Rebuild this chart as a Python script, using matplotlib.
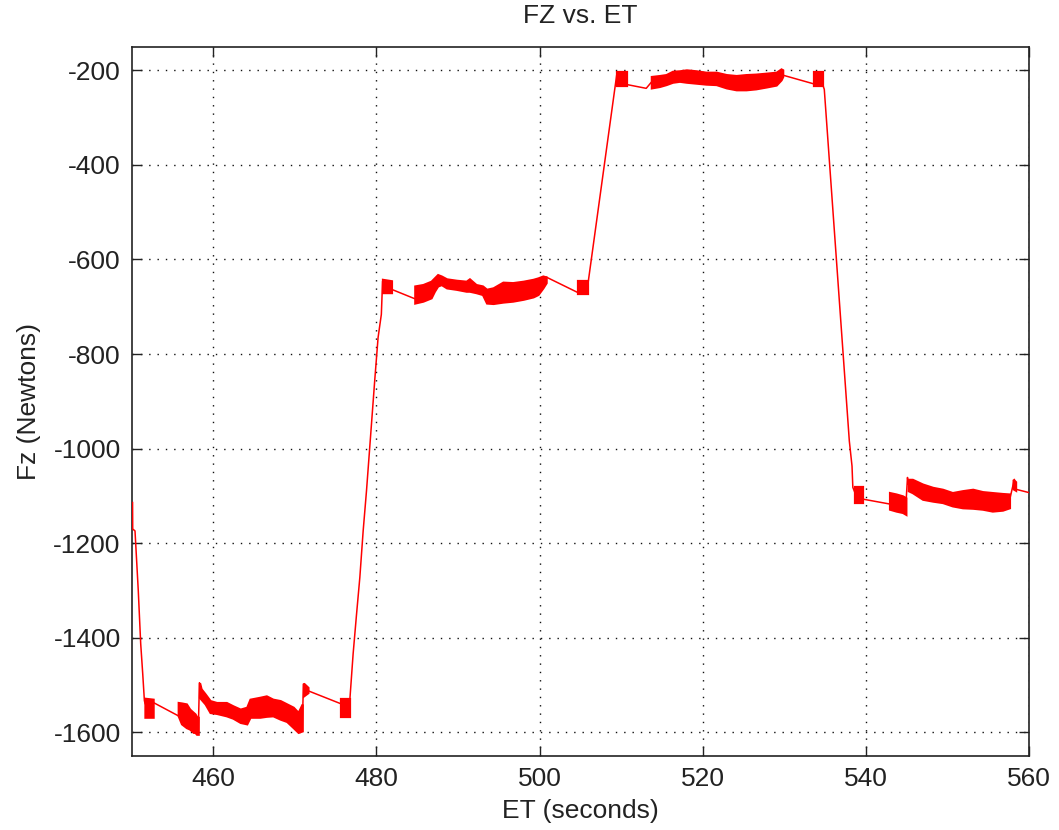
import numpy as np
import matplotlib
matplotlib.use("Agg")
import matplotlib.pyplot as plt

# ---- data ----
# sparse trace (connecting lines between the noisy blocks)
trace_t = [450.10, 450.12, 450.40, 450.80, 451.10, 451.35, 451.55, 451.65, 452.60, 452.65,
           455.70, 458.15, 458.30, 458.50, 470.90, 471.05, 471.60, 475.70, 476.70, 476.73,
           477.14, 477.56, 477.96, 478.37, 478.78, 479.80, 480.20, 480.60, 480.75, 481.84,
           484.70, 500.80, 504.70, 505.90, 509.45, 510.70, 513.07, 513.70, 529.80, 533.70,
           534.70, 534.90, 537.97, 538.30, 538.40, 538.70, 539.70, 542.87, 544.90, 545.10,
           545.20, 557.60, 558.20, 558.40, 560.00]
trace_y = [-1114, -1170, -1174, -1300, -1413, -1477, -1533, -1540, -1545, -1537,
           -1565, -1600, -1495, -1515, -1590, -1498, -1512, -1540, -1545, -1533,
           -1434, -1350, -1273, -1174, -1089, -853, -765, -716, -646, -663,
           -683, -637, -670, -655, -210, -230, -238, -225, -210, -229,
           -230, -240, -984, -1037, -1082, -1095, -1107, -1117, -1120, -1061,
           -1075, -1110, -1065, -1086, -1093]

# noisy bands: time, upper envelope, lower envelope, band id
band_id = ([0] * 2 + [1] * 8 + [2] * 18 + [3] * 2 + [4] * 2 + [5] * 2 + [6] * 21 +
           [7] * 2 + [8] * 2 + [9] * 17 + [10] * 2 + [11] * 2 + [12] * 4 + [13] * 12 + [14] * 2)
band_t = [451.62, 452.62,
          455.70, 456.10, 456.70, 457.10, 457.55, 457.75, 457.95, 458.15,
          458.30, 458.50, 459.00, 459.60, 460.40, 461.60, 462.40, 463.30, 464.10, 464.50,
          465.70, 466.50, 467.30, 468.20, 469.00, 469.80, 470.40, 470.90,
          471.05, 471.60,
          475.70, 476.70,
          480.74, 481.84,
          484.70, 485.70, 486.70, 487.10, 487.50, 487.95, 488.60, 489.80, 491.00, 491.40,
          492.20, 493.00, 493.50, 494.30, 495.50, 496.70, 498.00, 499.20, 499.80, 500.40, 500.80,
          504.70, 505.90,
          509.50, 510.70,
          513.70, 514.70, 515.50, 516.30, 517.15, 518.00, 519.20, 520.40, 521.65, 522.90,
          524.10, 525.30, 526.50, 527.80, 529.00, 529.60, 529.80,
          533.70, 534.70,
          538.70, 539.70,
          542.90, 543.70, 544.50, 544.90,
          545.20, 545.70, 546.95, 548.20, 549.40, 550.60, 551.85, 553.10, 554.30, 555.50,
          556.75, 557.60,
          558.05, 558.35]
band_hi = [-1528, -1530,
           -1537, -1538, -1540, -1551, -1558, -1561, -1567, -1568,
           -1495, -1508, -1519, -1533, -1537, -1537, -1544, -1551, -1547, -1530,
           -1526, -1523, -1530, -1533, -1540, -1547, -1558, -1540,
           -1496, -1505,
           -1530, -1530,
           -642, -645,
           -656, -653, -646, -639, -632, -635, -641, -644, -646, -641,
           -653, -656, -663, -660, -648, -649, -646, -642, -639, -635, -637,
           -646, -646,
           -204, -204,
           -213, -211, -209, -202, -201, -199, -201, -204, -204, -209,
           -211, -209, -208, -206, -204, -197, -199,
           -204, -204,
           -1082, -1082,
           -1093, -1096, -1100, -1104,
           -1065, -1065, -1075, -1082, -1086, -1093, -1089, -1086, -1091, -1093,
           -1095, -1096,
           -1065, -1070]
band_lo = [-1568, -1568,
           -1565, -1582, -1590, -1593, -1600, -1600, -1604, -1604,
           -1526, -1530, -1540, -1558, -1560, -1565, -1570, -1579, -1582, -1568,
           -1568, -1566, -1565, -1572, -1577, -1590, -1600, -1597,
           -1523, -1516,
           -1568, -1568,
           -670, -670,
           -692, -688, -681, -667, -656, -653, -660, -663, -667, -667,
           -670, -674, -692, -693, -690, -688, -684, -679, -674, -660, -649,
           -674, -674,
           -232, -232,
           -237, -234, -230, -225, -223, -225, -227, -229, -230, -237,
           -241, -241, -239, -235, -231, -220, -213,
           -232, -232,
           -1114, -1114,
           -1128, -1132, -1135, -1139,
           -1089, -1093, -1107, -1111, -1114, -1121, -1125, -1126, -1128, -1132,
           -1130, -1125,
           -1085, -1088]

x_ticks = [460, 480, 500, 520, 540, 560]
y_ticks = [-1600, -1400, -1200, -1000, -800, -600, -400, -200]

# ---- drawing ----
plt.rcParams['font.family'] = ['Liberation Sans', 'DejaVu Sans']
plt.rcParams['axes.unicode_minus'] = False

fig = plt.figure(figsize=(10.59, 8.30), dpi=100)
ax = fig.add_axes([0.1244, 0.0892, 0.8473, 0.8545])

red = '#ff0000'

bid = np.array(band_id)
bt = np.array(band_t)
bh = np.array(band_hi)
bl = np.array(band_lo)

# trace runs through the middle of each noisy band so it stays inside the fill
mid_t = []
mid_y = []
for k in np.unique(bid):
    m = bid == k
    if m.sum() > 2:
        mid_t.extend(bt[m][1:-1])
        mid_y.extend(((bh[m] + bl[m]) / 2)[1:-1])
all_t = np.concatenate([np.array(trace_t), np.array(mid_t)])
all_y = np.concatenate([np.array(trace_y), np.array(mid_y)])
order = np.argsort(all_t, kind='stable')
ax.plot(all_t[order], all_y[order], color=red, lw=1.1, zorder=3)

for k in np.unique(bid):
    m = bid == k
    ax.fill_between(bt[m], bl[m], bh[m], color=red, lw=1.6, edgecolor=red,
                    joinstyle='miter', zorder=3)

ax.set_xlim(450, 560)
ax.set_ylim(-1650, -150)
ax.set_xticks(x_ticks)
ax.set_yticks(y_ticks)
ax.grid(True, color='#111111', linestyle=(0, (1, 5)), linewidth=1.0)
ax.set_axisbelow(True)

ax.tick_params(direction='in', length=7, width=1.0, top=True, right=True,
               labelsize=19, pad=8, colors='#222222')
for s in ax.spines.values():
    s.set_linewidth(1.2)
    s.set_color('#222222')

ax.set_title('FZ vs. ET', fontsize=19, pad=17, color='#222222')
ax.set_xlabel('ET (seconds)', fontsize=19, labelpad=6, color='#222222')
ax.set_ylabel('Fz (Newtons)', fontsize=19, labelpad=9, color='#222222')

fig.savefig('out.png', dpi=100, facecolor='white')
